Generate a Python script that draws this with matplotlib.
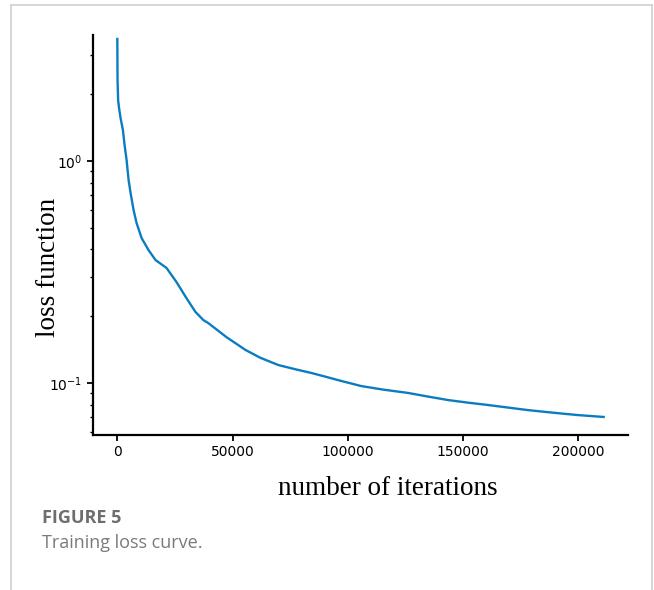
import matplotlib
matplotlib.use("Agg")
import matplotlib.pyplot as plt
from matplotlib.lines import Line2D

# curva de perda
iteracoes = [0, 100, 350, 870, 1430, 2430, 3160, 4030, 4900, 5760, 7060, 8360,
             10530, 13560, 16590, 21350, 25690, 30020, 33920, 37380, 39550,
             47350, 55580, 62000, 69870, 77000, 84170, 90000, 95860, 105820,
             115000, 126180, 135000, 143500, 152000, 160830, 170000, 178150,
             189000, 199800, 211060]
perda = [3.55, 2.32, 1.88, 1.70, 1.56, 1.38, 1.18, 1.01, 0.821, 0.718, 0.601,
         0.526, 0.450, 0.397, 0.358, 0.330, 0.285, 0.241, 0.209, 0.192, 0.186,
         0.161, 0.141, 0.130, 0.1205, 0.1155, 0.111, 0.107, 0.103, 0.0969,
         0.0935, 0.0902, 0.0868, 0.0838, 0.0816, 0.0796, 0.0774, 0.0755,
         0.0735, 0.0717, 0.0703]

AZUL = "#0a7dc2"
CINZA = "#6e6e6e"

fig = plt.figure(figsize=(6.54, 5.9), dpi=100)
ax = fig.add_axes([0.1422, 0.2627, 0.818, 0.678])

ax.plot(iteracoes, perda, color=AZUL, linewidth=1.7)
ax.set_yscale("log")
ax.set_ylim(0.0583, 3.70)

for lado in ["top", "right"]:
    ax.spines[lado].set_visible(False)
for lado in ["left", "bottom"]:
    ax.spines[lado].set_linewidth(1.6)

ax.tick_params(which="major", length=4, width=1.3, labelsize=10)
ax.tick_params(which="minor", length=2.5, width=1.0)
ax.set_xticks([0, 50000, 100000, 150000, 200000])
ax.set_xticklabels(["0", "50000", "100000", "150000", "200000"])

ax.set_xlabel("number of iterations", family="Liberation Serif", fontsize=19.5)
ax.set_ylabel("loss function", family="Liberation Serif", fontsize=19.5)
ax.xaxis.set_label_coords(0.551, -0.102)
ax.yaxis.set_label_coords(-0.06, 0.42)

# moldura e legenda da figura
cor_moldura = "#d0d0d0"
fig.add_artist(Line2D([11 / 654, 11 / 654], [0, 1 - 4.5 / 590],
                      transform=fig.transFigure, color=cor_moldura, lw=1.2))
fig.add_artist(Line2D([11 / 654, 652 / 654], [1 - 4.5 / 590, 1 - 4.5 / 590],
                      transform=fig.transFigure, color=cor_moldura, lw=1.2))
fig.add_artist(Line2D([652 / 654, 652 / 654], [0, 1 - 4.5 / 590],
                      transform=fig.transFigure, color=cor_moldura, lw=1.2))

fig.text(42 / 654, 1 - 518 / 590, "FIGURE 5", family="Open Sans",
         weight="bold", fontsize=13, color=CINZA, va="center")
fig.text(42 / 654, 1 - 543 / 590, "Training loss curve.", family="Open Sans",
         fontsize=13, color="#7a7a7a", va="center")

plt.savefig("out.png", dpi=100)
plt.close()
